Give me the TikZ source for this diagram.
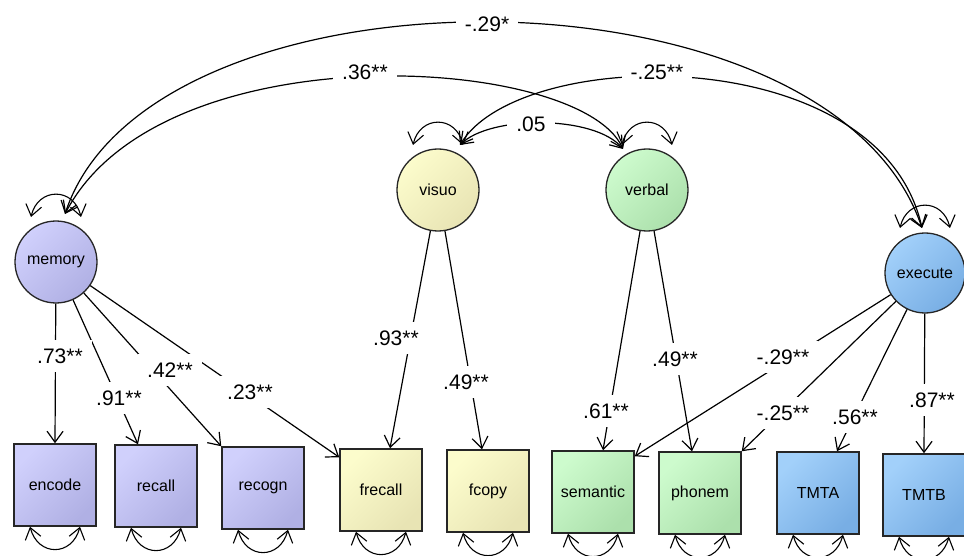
\documentclass[tikz,border=0pt]{standalone}
\usepackage{fontspec}
\setmainfont{Liberation Sans}
\usetikzlibrary{arrows.meta,calc}
\definecolor{purL}{HTML}{D0D0FC}
\definecolor{purD}{HTML}{B0B0E4}
\definecolor{yelL}{HTML}{FCFCCC}
\definecolor{yelD}{HTML}{E8E4B4}
\definecolor{grnL}{HTML}{CDFBCD}
\definecolor{grnD}{HTML}{ACE0AC}
\definecolor{bluL}{HTML}{A2D0FA}
\definecolor{bluD}{HTML}{78AEE4}
\definecolor{edgec}{HTML}{262626}
\begin{document}
\begin{tikzpicture}[x=1pt,y=-1pt,
  >={Straight Barb[length=11pt,width=16pt]},
  latent/.style={circle,draw=edgec,line width=1.3pt,minimum size=82pt,inner sep=0pt,font=\fontsize{16}{19}\selectfont},
  observed/.style={rectangle,draw=edgec,line width=1.5pt,minimum width=82pt,minimum height=82pt,inner sep=0pt,font=\fontsize{16}{19}\selectfont},
  pur/.style={top color=purL,bottom color=purD,shading angle=45},
  yel/.style={top color=yelL,bottom color=yelD,shading angle=45},
  grn/.style={top color=grnL,bottom color=grnD,shading angle=45},
  blu/.style={top color=bluL,bottom color=bluD,shading angle=45},
  conn/.style={->,line width=1.2pt,draw=black},
  covar/.style={<->,line width=1.2pt,draw=black},
  varloop/.style={<->,line width=1.1pt,draw=black},
  lab/.style={fill=white,inner sep=9pt,font=\fontsize{21}{24}\selectfont}
]
\useasboundingbox (0,0) rectangle (964,556);

% latent variables
\node[latent,pur] (memory) at (56,262) {memory};
\node[latent,yel] (visuo) at (438,190) {visuo};
\node[latent,grn] (verbal) at (647,190) {verbal};
\node[latent,blu,minimum size=80pt] (execute) at (925,273) {execute};

% observed variables
\node[observed,pur] (encode) at (55,485) {encode};
\node[observed,pur] (recall) at (156,486) {recall};
\node[observed,pur] (recogn) at (263,488) {recogn};
\node[observed,yel] (frecall) at (381,490) {frecall};
\node[observed,yel] (fcopy) at (488,491) {fcopy};
\node[observed,grn] (semantic) at (593,492) {semantic};
\node[observed,grn] (phonem) at (700,493) {phonem};
\node[observed,blu] (TMTA) at (818,493) {TMTA};
\node[observed,blu] (TMTB) at (924,495) {TMTB};

% covariance end points
\coordinate (memC) at ($(memory)+(9,-48)$);
\coordinate (visC) at ($(visuo)+(22,-45)$);
\coordinate (verC) at ($(verbal)+(-24,-41)$);
\coordinate (exeC) at ($(execute)+(-3,-45)$);

% variance loops on latent variables
\foreach \n in {memory,visuo,verbal,execute}{
  \draw[varloop] ($(\n)+(-25,-45)$) .. controls ($(\n)+(-18,-75)$) and ($(\n)+(18,-75)$) .. ($(\n)+(25,-45)$);
}
% variance loops on observed variables
\foreach \n in {encode,recall,recogn,frecall,fcopy,semantic,phonem,TMTA,TMTB}{
  \draw[varloop] ([xshift=-25pt]\n.south) .. controls +(8,30) and +(-8,30) .. ([xshift=25pt]\n.south);
}

% covariances
\draw[covar] (memC) .. controls (150,-44) and (830,-44) .. (exeC);
\draw[covar] (memC) .. controls (160,30) and (580,54) .. (verC);
\draw[covar] (visC) .. controls (520,45) and (880,40) .. (exeC);
\draw[covar] (visC) .. controls (490,115) and (595,115) .. (verC);

% loadings
\draw[conn] (memory) -- (encode.north);
\draw[conn] (memory) -- ([xshift=-18pt]recall.north);
\draw[conn] (memory) -- (recogn.north west);
\draw[conn] (memory) -- ([yshift=-9pt]frecall.north west);
\draw[conn] (visuo) -- ([xshift=9pt]frecall.north);
\draw[conn] (visuo) -- ([xshift=-6pt]fcopy.north);
\draw[conn] (verbal) -- ([xshift=10pt]semantic.north);
\draw[conn] (verbal) -- ([xshift=-8pt]phonem.north);
\draw[conn] (execute) -- ([yshift=-6pt]semantic.north east);
\draw[conn] (execute) -- (phonem.north east);
\draw[conn] (execute) -- ([xshift=19pt]TMTA.north);
\draw[conn] (execute) -- (TMTB.north);

% labels
\node[lab] (lc1) at (487,24) {-.29*};
\node[lab] (lc2) at (365,72) {.36**};
\node[lab] (lc3) at (657,72) {-.25**};
\node[lab] (lc4) at (531,124) {.05};
\node[lab] (l1) at (60,356) {.73**};
\node[lab] (l2) at (119,398) {.91**};
\node[lab] (l3) at (170,370) {.42**};
\node[lab] (l4) at (250,392) {.23**};
\node[lab] (l5) at (396,338) {.93**};
\node[lab] (l6) at (466,382) {.49**};
\node[lab] (l7) at (606,411) {.61**};
\node[lab] (l8) at (675,359) {.49**};
\node[lab] (l9) at (783,357) {-.29**};
\node[lab] (l10) at (783,413) {-.25**};
\node[lab] (l11) at (855,417) {.56**};
\node[lab] (l12) at (932,400) {.87**};
\end{tikzpicture}
\end{document}
